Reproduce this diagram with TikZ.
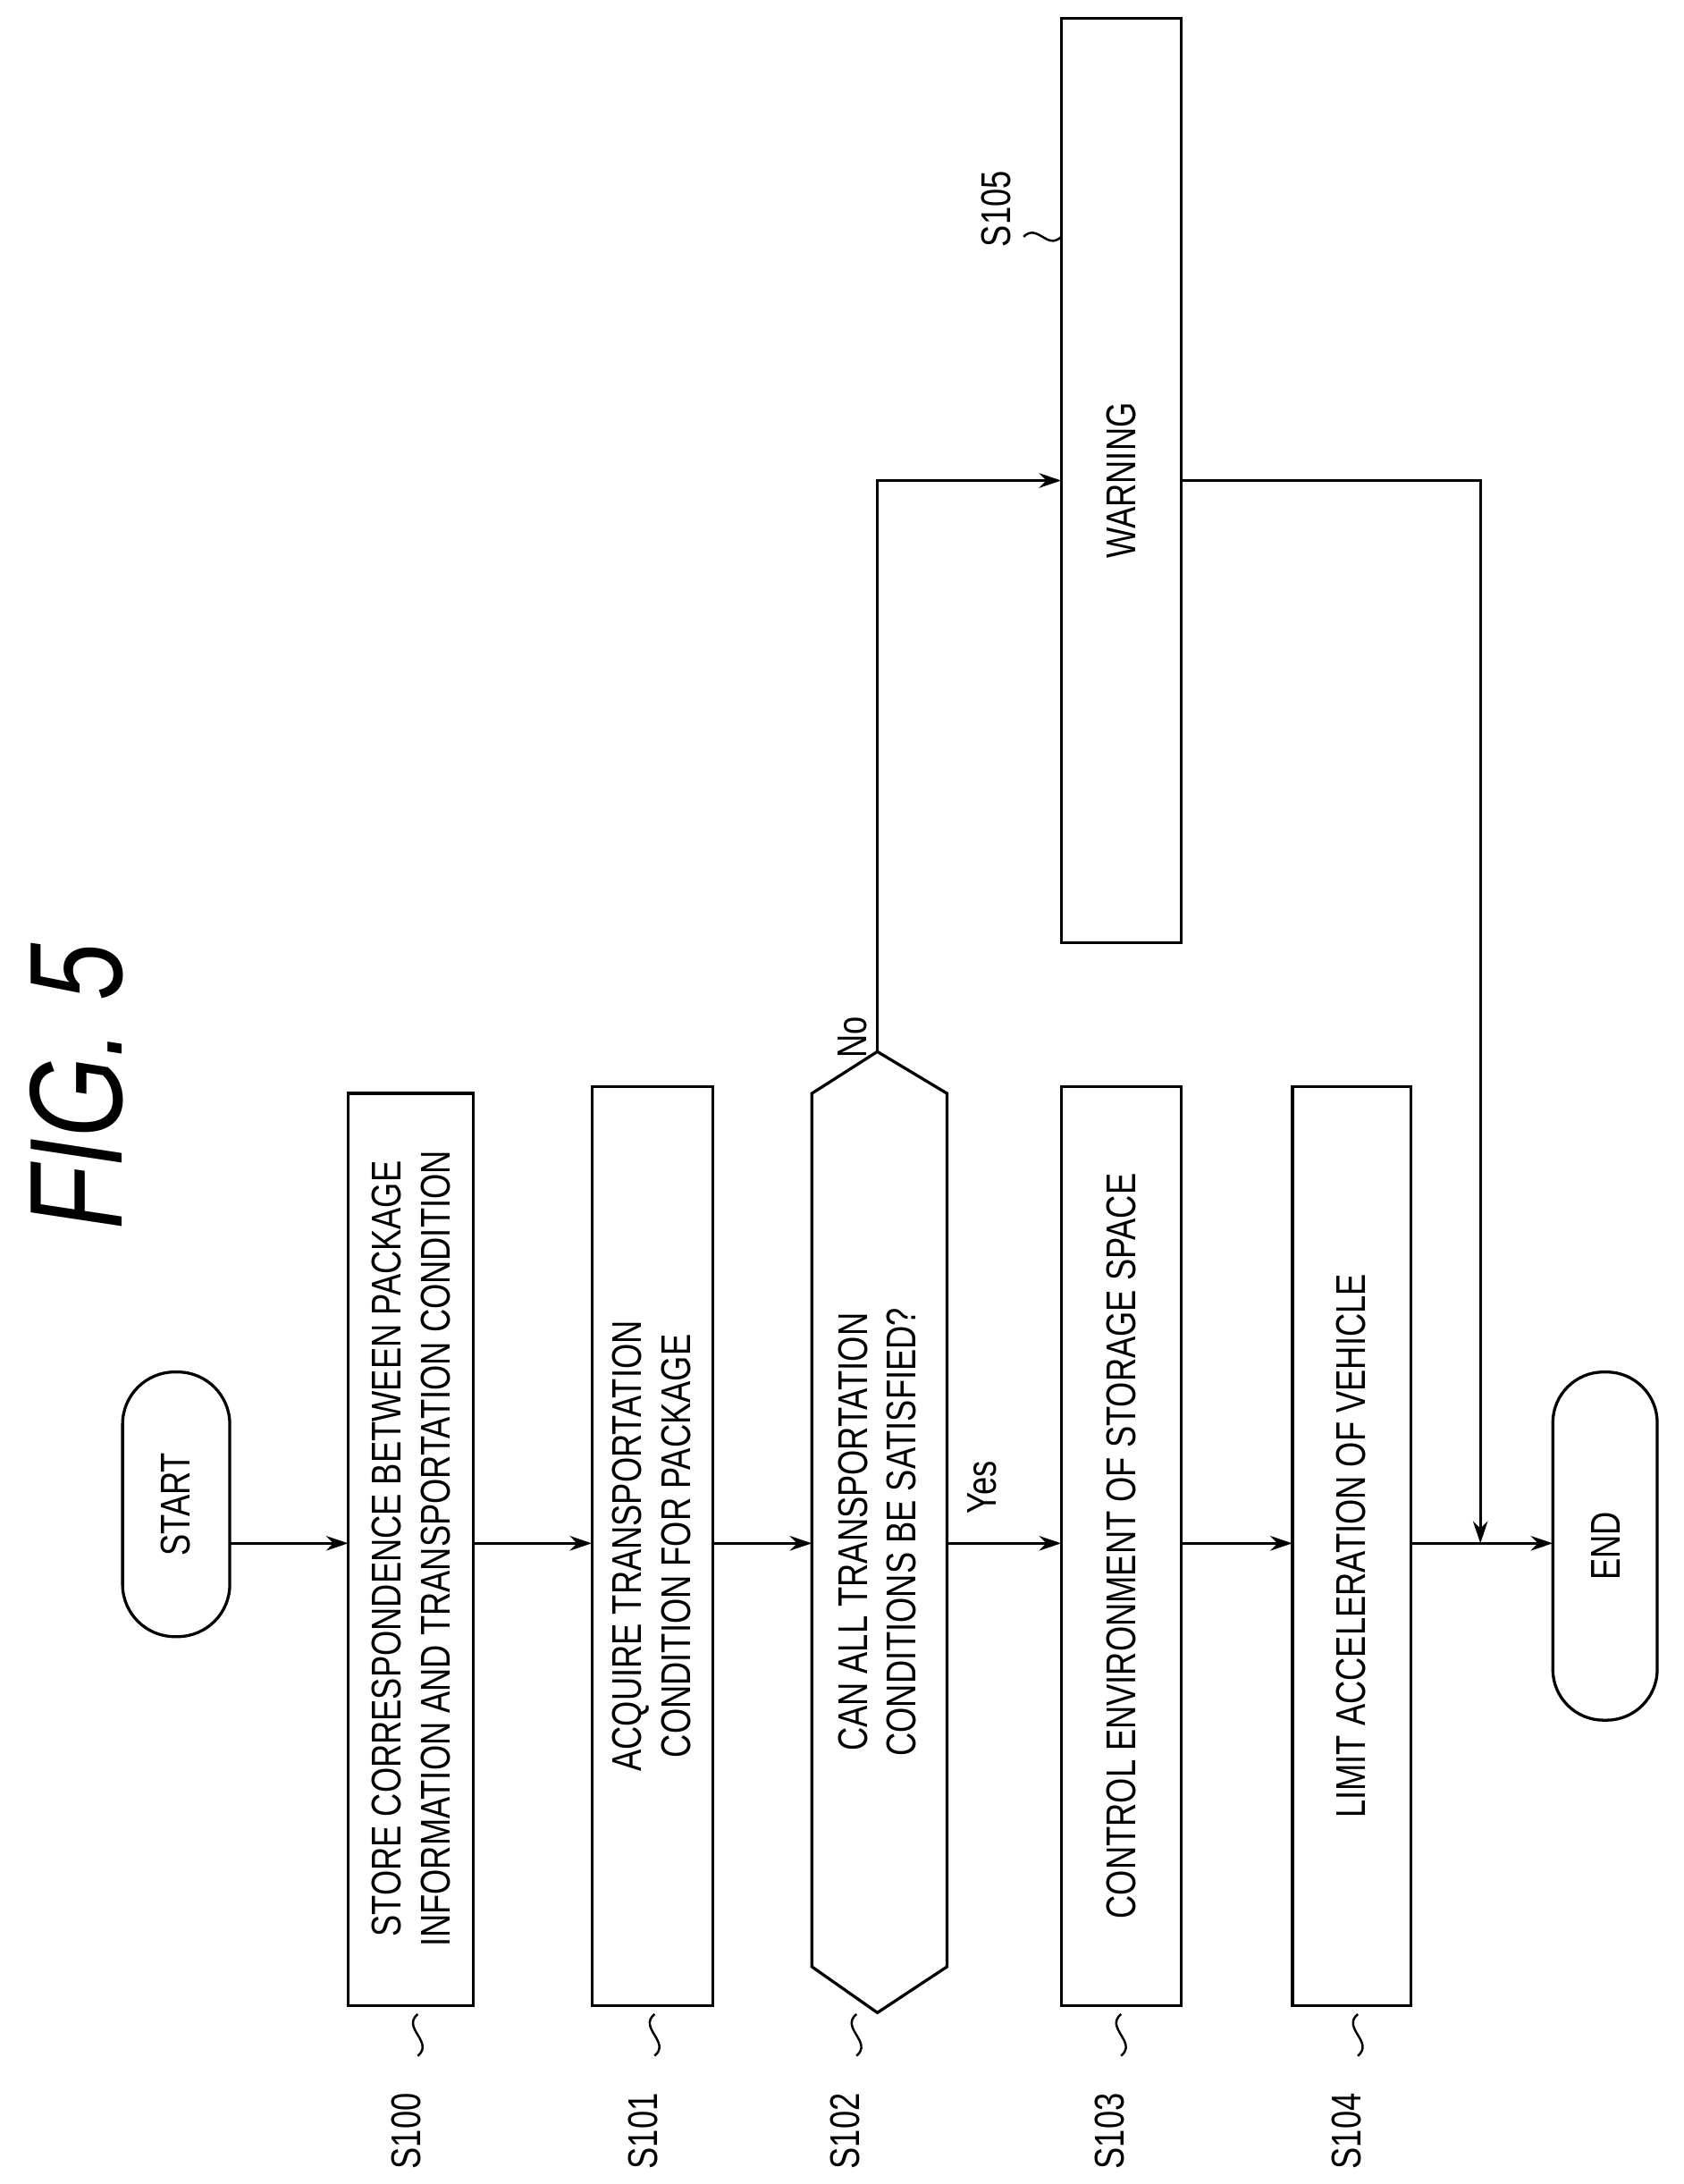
\documentclass[tikz,border=0pt]{standalone}
\usepackage{fontspec}
\setmainfont{Liberation Sans}[FakeStretch=0.78]
\usetikzlibrary{arrows.meta}
\begin{document}
\begin{tikzpicture}[x=0.02cm,y=-0.02cm,
    flow/.style={-{Stealth[length=9pt,width=6pt]}, line width=1.2pt},
    lbl/.style={rotate=90, font=\fontsize{17}{20}\selectfont},
    wave/.style={line width=0.9pt}
]
\useasboundingbox (0,0) rectangle (1209,1568);

% Title
\node[rotate=90, font=\fontsize{54}{54}\selectfont\itshape] (title) at (55,780) {FIG. 5};

% Terminals
\draw[line width=1.2pt, rounded corners=0.75cm] (88,985) rectangle (165,1175);
\node[lbl] (start) at (126,1080) {START};
\draw[line width=1.2pt, rounded corners=0.73cm] (1115,985) rectangle (1190,1235);
\node[lbl] (end) at (1153,1110) {END};

% Process boxes
\draw[line width=1.2pt] (250,785) rectangle (340,1440);
\node[lbl, align=center] (s100) at (295,1112) {STORE CORRESPONDENCE BETWEEN PACKAGE\\INFORMATION AND TRANSPORTATION CONDITION};
\draw[line width=1.2pt] (425,780) rectangle (512,1440);
\node[lbl, align=center] (s101) at (468,1110) {ACQUIRE TRANSPORTATION\\CONDITION FOR PACKAGE};
\draw[line width=1.2pt] (630,755) -- (680,785) -- (680,1412) -- (630,1445) -- (583,1412) -- (583,785) -- cycle;
\node[lbl, align=center] (s102) at (630,1100) {CAN ALL TRANSPORTATION\\CONDITIONS BE SATISFIED?};
\draw[line width=1.2pt] (762,780) rectangle (848,1440);
\node[lbl] (s103) at (805,1110) {CONTROL ENVIRONMENT OF STORAGE SPACE};
\draw[line width=1.2pt] (928,780) rectangle (1013,1440);
\node[lbl] (s104) at (970,1110) {LIMIT ACCELERATION OF VEHICLE};
\draw[line width=1.2pt] (762,13) rectangle (848,677);
\node[lbl] (s105) at (805,345) {WARNING};

% Main flow
\draw[flow] (165,1108) -- (250,1108);
\draw[flow] (340,1108) -- (425,1108);
\draw[flow] (512,1108) -- (583,1108);
\draw[flow] (680,1108) -- (762,1108);
\draw[flow] (848,1108) -- (928,1108);
\draw[flow] (1013,1108) -- (1115,1108);

% Branches
\draw[flow] (630,755) -- (630,345) -- (762,345);
\draw[flow] (848,345) -- (1063,345) -- (1063,1108);
\node[lbl] (no) at (612,745) {No};
\node[lbl] (yes) at (705,1068) {Yes};

% Step labels
\foreach \x/\t in {300/S100, 470/S101, 615/S102, 805/S103, 975/S104} {
  \draw[wave] (\x,1446) .. controls (\x-12,1456) and (\x+12,1466) .. (\x,1476);
  \node[lbl] at (\x-8,1530) {\t};
}
\draw[wave] (735,170) .. controls (745,160) and (752,180) .. (762,170);
\node[lbl] (l105) at (715,150) {S105};
\end{tikzpicture}
\end{document}
